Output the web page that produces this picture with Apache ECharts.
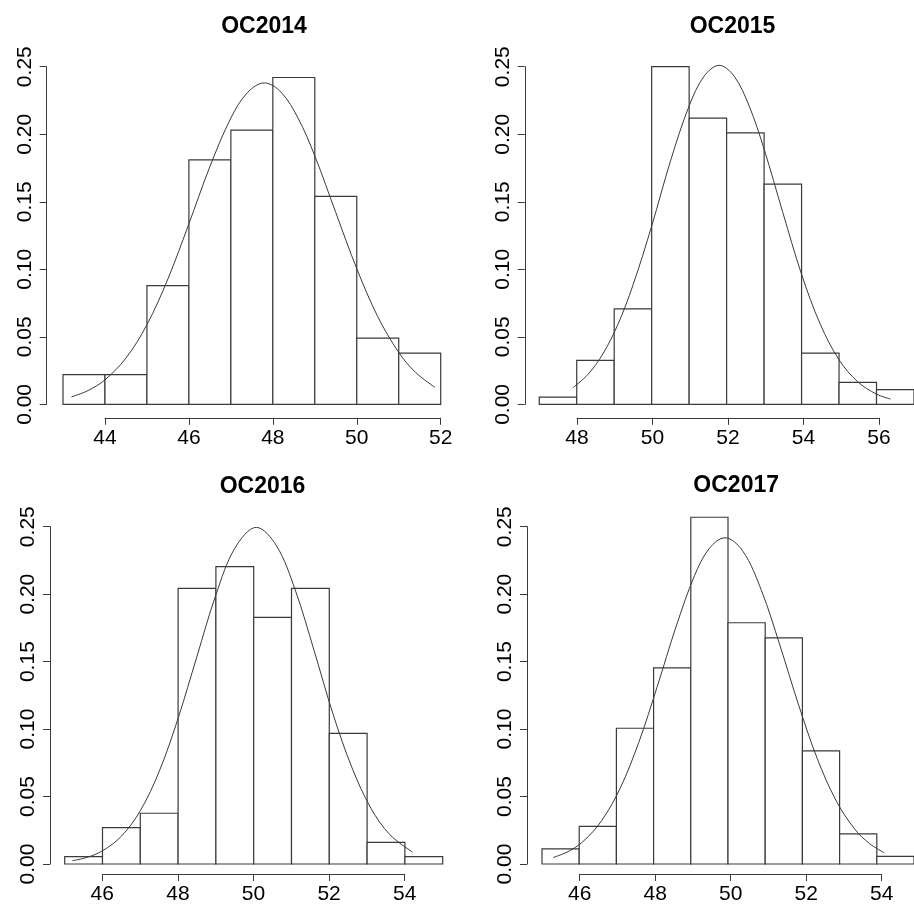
<!DOCTYPE html>
<html><head><meta charset="utf-8">
<script src="https://cdn.jsdelivr.net/npm/echarts@6/dist/echarts.min.js"></script>
<style>html,body{margin:0;padding:0;background:#fff}#c{width:914px;height:905px}</style>
</head><body><div id="c"></div>
<script>
// ---------- data ----------
const titles = ['OC2014', 'OC2015', 'OC2016', 'OC2017'];
const yTicks = [0, 0.05, 0.10, 0.15, 0.20, 0.25];

const breaks2014 = [43, 44, 45, 46, 47, 48, 49, 50, 51, 52];
const density2014 = [0.022, 0.022, 0.088, 0.181, 0.203, 0.242, 0.154, 0.049, 0.038];
const xTicks2014 = [44, 46, 48, 50, 52];
const curveX2014 = [43.2, 43.6, 44, 44.5, 45, 45.5, 46, 46.5, 47, 47.4, 47.8, 48.2, 48.6, 49, 49.5, 50, 50.5, 51, 51.4, 51.86];
const curveY2014 = [0.0055, 0.0103, 0.0182, 0.0343, 0.059, 0.0929, 0.1337, 0.176, 0.212, 0.231, 0.238, 0.231, 0.212, 0.184, 0.142, 0.1005, 0.065, 0.0385, 0.0237, 0.0127];

const breaks2015 = [47, 48, 49, 50, 51, 52, 53, 54, 55, 56, 57];
const density2015 = [0.0054, 0.0326, 0.0707, 0.25, 0.212, 0.201, 0.163, 0.038, 0.0163, 0.0109];
const xTicks2015 = [48, 50, 52, 54, 56];
const curveX2015 = [47.9, 48.3, 48.7, 49.1, 49.5, 50, 50.5, 51, 51.4, 51.8, 52.2, 52.6, 53, 53.5, 54, 54.5, 55, 55.5, 56, 56.37];
const curveY2015 = [0.0124, 0.0222, 0.0375, 0.0593, 0.0882, 0.132, 0.180, 0.221, 0.243, 0.251, 0.243, 0.221, 0.189, 0.142, 0.0963, 0.0593, 0.033, 0.0167, 0.0076, 0.004];

const breaks2016 = [45, 46, 47, 48, 49, 50, 51, 52, 53, 54, 55];
const density2016 = [0.0054, 0.0269, 0.0376, 0.2043, 0.2204, 0.1828, 0.2043, 0.0968, 0.0161, 0.0054];
const xTicks2016 = [46, 48, 50, 52, 54];
const curveX2016 = [45.2, 45.6, 46, 46.5, 47, 47.5, 48, 48.5, 49, 49.5, 50.07, 50.6, 51.1, 51.6, 52.1, 52.6, 53.1, 53.6, 54.2];
const curveY2016 = [0.0024, 0.005, 0.0098, 0.0206, 0.0395, 0.0686, 0.108, 0.154, 0.1995, 0.234, 0.2495, 0.236, 0.203, 0.158, 0.111, 0.0714, 0.0414, 0.0218, 0.0089];

const breaks2017 = [45, 46, 47, 48, 49, 50, 51, 52, 53, 54, 55];
const density2017 = [0.0112, 0.0279, 0.1006, 0.1453, 0.257, 0.1788, 0.1676, 0.0838, 0.0223, 0.0056];
const xTicks2017 = [46, 48, 50, 52, 54];
const curveX2017 = [45.3, 45.7, 46.1, 46.6, 47.1, 47.6, 48.1, 48.6, 49.1, 49.5, 49.92, 50.4, 50.9, 51.4, 51.9, 52.4, 52.9, 53.4, 53.8, 54.2];
const curveY2017 = [0.0048, 0.0092, 0.0166, 0.032, 0.0561, 0.09, 0.1317, 0.1756, 0.2137, 0.234, 0.2418, 0.2318, 0.2027, 0.1617, 0.1177, 0.0781, 0.0473, 0.0261, 0.0152, 0.0084];

// ---------- layout / style ----------
const panels = [
  {breaks: breaks2014, dens: density2014, ticks: xTicks2014, cx: curveX2014, cy: curveY2014,
   grid: {left: 63, top: 66.7, width: 377.7, height: 337.7}, yOff: 16.3,
   axisGrid: {left: 105, width: 335.7}, xOff: 13.4, title: [259, 10]},
  {breaks: breaks2015, dens: density2015, ticks: xTicks2015, cx: curveX2015, cy: curveY2015,
   grid: {left: 539.25, top: 66.7, width: 377.5, height: 337.7}, yOff: 14.5,
   axisGrid: {left: 577, width: 302}, xOff: 13.4, title: [727.5, 10]},
  {breaks: breaks2016, dens: density2016, ticks: xTicks2016, cx: curveX2016, cy: curveY2016,
   grid: {left: 64.7, top: 526.7, width: 378, height: 337.3}, yOff: 14.7,
   axisGrid: {left: 102.3, width: 302.4}, xOff: 13.7, title: [257.5, 470]},
  {breaks: breaks2017, dens: density2017, ticks: xTicks2017, cx: curveX2017, cy: curveY2017,
   grid: {left: 542, top: 526.7, width: 377.5, height: 337.3}, yOff: 15,
   axisGrid: {left: 579.7, width: 302}, xOff: 13.7, title: [731.2, 469]}
];

const FONT = "'Liberation Sans', Arial, sans-serif";
const LINE = '#3a3a3a';

const option = {
  animation: false,
  backgroundColor: '#fff',
  title: [], grid: [], xAxis: [], yAxis: [], series: []
};

panels.forEach((p, i) => {
  option.title.push({
    text: titles[i], left: p.title[0], top: p.title[1], textAlign: 'center',
    textStyle: {fontFamily: FONT, fontWeight: 'bold', fontSize: 23, color: '#000'}
  });
  // data grid
  const g = option.grid.length;
  option.grid.push(Object.assign({containLabel: false}, p.grid));
  option.xAxis.push({
    gridIndex: g, type: 'value', min: p.breaks[0], max: p.breaks[p.breaks.length - 1], show: false
  });
  option.yAxis.push({
    gridIndex: g, type: 'value', min: yTicks[0], max: yTicks[yTicks.length - 1], interval: 0.05,
    offset: p.yOff,
    axisLine: {show: true, lineStyle: {color: LINE, width: 1}},
    axisTick: {show: true, length: 7, lineStyle: {color: LINE, width: 1}},
    axisLabel: {rotate: 90, margin: 11, fontFamily: FONT, fontSize: 21, color: '#000',
      formatter: v => v.toFixed(2)},
    splitLine: {show: false}
  });
  // axis grid (x axis drawn from first to last tick)
  const ag = option.grid.length;
  option.grid.push({left: p.axisGrid.left, width: p.axisGrid.width, top: p.grid.top, height: p.grid.height});
  option.xAxis.push({
    gridIndex: ag, type: 'value', min: p.ticks[0], max: p.ticks[p.ticks.length - 1], interval: 2,
    offset: p.xOff,
    axisLine: {show: true, onZero: false, lineStyle: {color: LINE, width: 1}},
    axisTick: {show: true, length: 7, lineStyle: {color: LINE, width: 1}},
    axisLabel: {margin: 10, fontFamily: FONT, fontSize: 21, color: '#000'},
    splitLine: {show: false}
  });
  option.yAxis.push({gridIndex: ag, type: 'value', min: 0, max: 1, show: false});

  const xi = option.xAxis.length - 2;
  const yi = option.yAxis.length - 2;
  const barData = p.dens.map((d, k) => [p.breaks[k], p.breaks[k + 1], d]);
  option.series.push({
    type: 'custom', xAxisIndex: xi, yAxisIndex: yi, clip: false,
    data: barData,
    encode: {x: [0, 1], y: 2},
    renderItem: (params, api) => {
      const p0 = api.coord([api.value(0), api.value(2)]);
      const p1 = api.coord([api.value(1), 0]);
      return {
        type: 'rect',
        shape: {x: p0[0], y: p0[1], width: p1[0] - p0[0], height: p1[1] - p0[1]},
        style: {fill: '#fff', stroke: LINE, lineWidth: 1.2}
      };
    }
  });
  option.series.push({
    type: 'line', xAxisIndex: xi, yAxisIndex: yi, clip: false, smooth: 0.35,
    showSymbol: false, symbol: 'none',
    data: p.cx.map((x, k) => [x, p.cy[k]]),
    lineStyle: {color: LINE, width: 1}
  });
});

const chart = echarts.init(document.getElementById('c'), null, {renderer: 'canvas'});
chart.setOption(option);
</script></body></html>
